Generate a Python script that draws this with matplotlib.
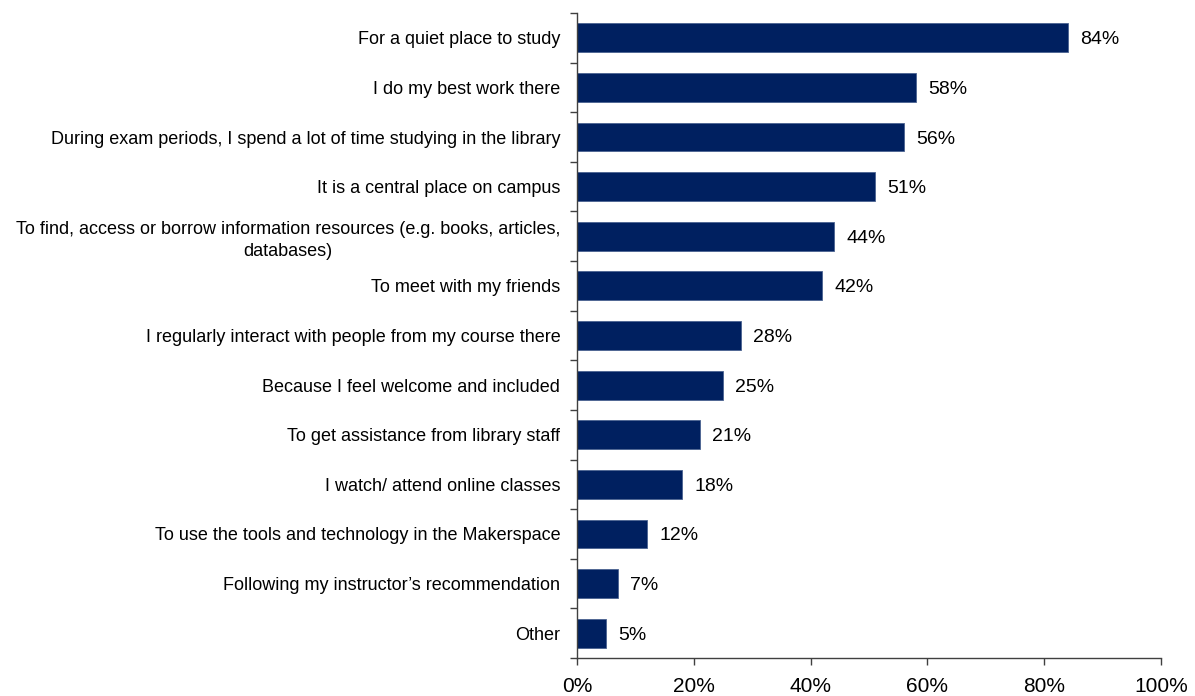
import matplotlib
matplotlib.use("Agg")
import matplotlib.pyplot as plt
import numpy as np

categories = [
    "For a quiet place to study",
    "I do my best work there",
    "During exam periods, I spend a lot of time studying in the library",
    "It is a central place on campus",
    "To find, access or borrow information resources (e.g. books, articles,\ndatabases)",
    "To meet with my friends",
    "I regularly interact with people from my course there",
    "Because I feel welcome and included",
    "To get assistance from library staff",
    "I watch/ attend online classes",
    "To use the tools and technology in the Makerspace",
    "Following my instructor\u2019s recommendation",
    "Other",
]
values = [84, 58, 56, 51, 44, 42, 28, 25, 21, 18, 12, 7, 5]
x_ticks = [0, 20, 40, 60, 80, 100]
x_tick_labels = ["0%", "20%", "40%", "60%", "80%", "100%"]

plt.rcParams["font.family"] = ["Liberation Sans", "DejaVu Sans"]

W, H = 1195, 696
fig = plt.figure(figsize=(W / 100, H / 100), dpi=100)
ax = fig.add_axes([577 / W, 1 - 658 / H, (1161 - 577) / W, (658 - 13) / H])

n = len(categories)
pos = np.arange(n)
ax.barh(pos, values, height=0.58, color="#002060", edgecolor="#4a6290",
        linewidth=0.6)

for p, v in zip(pos, values):
    ax.text(v + 2.1, p, f"{v}%", va="center_baseline", ha="left",
            fontsize=14, color="#000000")

ax.set_ylim(n - 0.5, -0.5)
ax.set_xlim(0, 100)

# category labels centred on bars, tick marks between categories
ax.set_yticks(pos)
ax.set_yticklabels(categories, fontsize=13)
for lbl in ax.get_yticklabels():
    lbl.set_multialignment("center")
    lbl.set_linespacing(1.35)
    lbl.set_verticalalignment("center_baseline")
ax.tick_params(axis="y", which="major", length=0, pad=12)
ax.set_yticks(np.arange(-0.5, n, 1), minor=True)
ax.tick_params(axis="y", which="minor", length=5, width=1, color="#404040",
               direction="out")

ax.set_xticks(x_ticks)
ax.set_xticklabels(x_tick_labels, fontsize=15)
ax.tick_params(axis="x", length=5, width=1, color="#404040", pad=9)

for side in ("top", "right"):
    ax.spines[side].set_visible(False)
for side in ("left", "bottom"):
    ax.spines[side].set_color("#404040")
    ax.spines[side].set_linewidth(1)

fig.savefig("out.png", dpi=100)
